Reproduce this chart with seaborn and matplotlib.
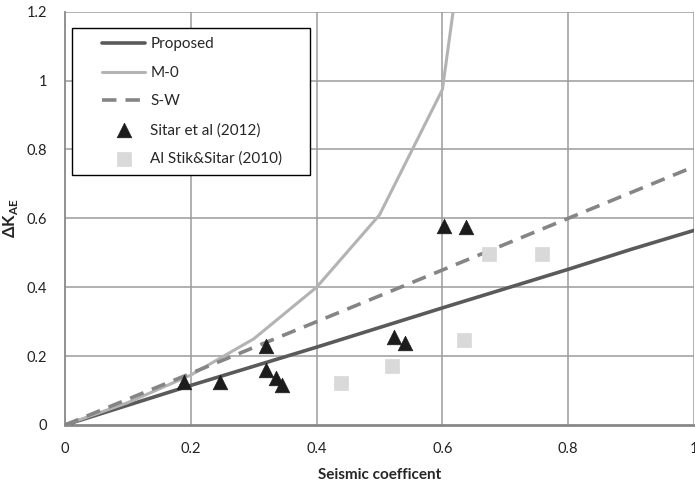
import matplotlib
matplotlib.use("Agg")
import matplotlib.pyplot as plt
from matplotlib.lines import Line2D
from matplotlib.collections import PathCollection
from matplotlib.legend_handler import HandlerLine2D, HandlerPathCollection
import seaborn as sns
import pandas as pd

# Data
prop_x = [0, 0.2, 0.4, 0.6, 0.8, 0.9, 1.0]
prop_y = [0, 0.115, 0.226, 0.34, 0.452, 0.51, 0.565]

m0_x = [0, 0.1, 0.2, 0.3, 0.4, 0.5, 0.6, 0.65]
m0_y = [0, 0.065, 0.145, 0.25, 0.40, 0.61, 0.974, 1.64]

sw_x = [0, 0.2, 0.4, 0.6, 0.8, 1.0]
sw_y = [0, 0.15, 0.30, 0.45, 0.60, 0.75]

sitar_x = [0.189, 0.247, 0.32, 0.32, 0.335, 0.345, 0.523, 0.54, 0.603, 0.637]
sitar_y = [0.126, 0.126, 0.228, 0.16, 0.136, 0.115, 0.255, 0.237, 0.578, 0.576]

alstik_x = [0.439, 0.52, 0.635, 0.674, 0.758]
alstik_y = [0.121, 0.172, 0.247, 0.497, 0.497]

x_ticks = [0, 0.2, 0.4, 0.6, 0.8, 1.0]
x_tick_labels = ["0", "0.2", "0.4", "0.6", "0.8", "1"]
y_ticks = [0, 0.2, 0.4, 0.6, 0.8, 1.0, 1.2]
y_tick_labels = ["0", "0.2", "0.4", "0.6", "0.8", "1", "1.2"]

sns.set_style("white")
plt.rcParams['font.family'] = ['Lato', 'DejaVu Sans']
plt.rcParams['mathtext.fontset'] = 'custom'
plt.rcParams['mathtext.rm'] = 'Lato'
plt.rcParams['mathtext.bf'] = 'Lato:bold'


def _shifted_xdata(xdescent, width):
    x0 = -xdescent + 0.33 * width
    x1 = -xdescent + width
    return [x0, x1], [0.5 * (x0 + x1)]


class ShiftLine(HandlerLine2D):
    def get_xdata(self, legend, xdescent, ydescent, width, height, fontsize):
        return _shifted_xdata(xdescent, width)


class ShiftPC(HandlerPathCollection):
    def get_xdata(self, legend, xdescent, ydescent, width, height, fontsize):
        return _shifted_xdata(xdescent, width)


fig = plt.figure(figsize=(6.95, 4.84), dpi=100)
ax = fig.add_axes([65 / 695, 59 / 484, 629 / 695, (425 - 11.7) / 484])

grid_c = "#9b9b9b"
for v in x_ticks[1:]:
    ax.axvline(v, color=grid_c, lw=1.1, zorder=0)
for v in y_ticks[1:]:
    ax.axhline(v, color=grid_c, lw=1.1, zorder=0)

df_p = pd.DataFrame({"x": prop_x, "y": prop_y})
df_m = pd.DataFrame({"x": m0_x, "y": m0_y})
df_s = pd.DataFrame({"x": sw_x, "y": sw_y})
df_t = pd.DataFrame({"x": sitar_x, "y": sitar_y})
df_q = pd.DataFrame({"x": alstik_x, "y": alstik_y})

sns.lineplot(data=df_p, x="x", y="y", ax=ax, color="#5a5a5a", lw=2.6,
             label="Proposed", sort=False, zorder=3)
sns.lineplot(data=df_m, x="x", y="y", ax=ax, color="#b3b3b3", lw=2.2,
             label="M-0", sort=False, zorder=3)
sns.lineplot(data=df_s, x="x", y="y", ax=ax, color="#858585", lw=2.6,
             label="S-W", sort=False, zorder=3, linestyle=(0, (4, 2.5)))
sns.scatterplot(data=df_t, x="x", y="y", ax=ax, marker="^", s=110,
                color="#1c1c1c", edgecolor="#1c1c1c", linewidth=0.5,
                label="Sitar et al (2012)", zorder=4)
sns.scatterplot(data=df_q, x="x", y="y", ax=ax, marker="s", s=110,
                color="#d9d9d9", edgecolor="#d9d9d9", linewidth=0.5,
                label="Al Stik&Sitar (2010)", zorder=4)

ax.set_xlim(0, 1)
ax.set_ylim(0, 1.2)
ax.set_xticks(x_ticks)
ax.set_xticklabels(x_tick_labels)
ax.set_yticks(y_ticks)
ax.set_yticklabels(y_tick_labels)
ax.tick_params(axis='both', labelsize=10.5, labelcolor="#222222", length=5,
               width=1, direction='out', color="#888888")
ax.tick_params(axis='y', pad=8)
ax.tick_params(axis='x', pad=7)

for side in ["top", "right"]:
    ax.spines[side].set_visible(False)
ax.spines["left"].set_color("#888888")
ax.spines["left"].set_linewidth(1.3)
ax.spines["bottom"].set_color("#888888")
ax.spines["bottom"].set_linewidth(2)

ax.set_xlabel("Seismic coefficent", fontsize=11, fontweight="bold", labelpad=9)
ax.set_ylabel(r"$\mathbf{\Delta K}_{\mathbf{AE}}$", fontsize=12)
ax.yaxis.set_label_coords((20 - 65) / 629, 0.5)

x0 = (72 - 65) / 629
w = (310 - 72) / 629
ytop = (425 - 28.3) / 413.3
leg = ax.legend(loc="upper left", bbox_to_anchor=(x0, ytop, w, 0), mode="expand",
                frameon=True, fancybox=False, edgecolor="black", fontsize=11,
                handlelength=4.19, handletextpad=0.33, labelspacing=0.95,
                borderpad=0.6, borderaxespad=0,
                handler_map={Line2D: ShiftLine(), PathCollection: ShiftPC()})
leg.get_frame().set_linewidth(1.0)
leg.get_frame().set_alpha(1)

fig.savefig("out.png", dpi=100)
